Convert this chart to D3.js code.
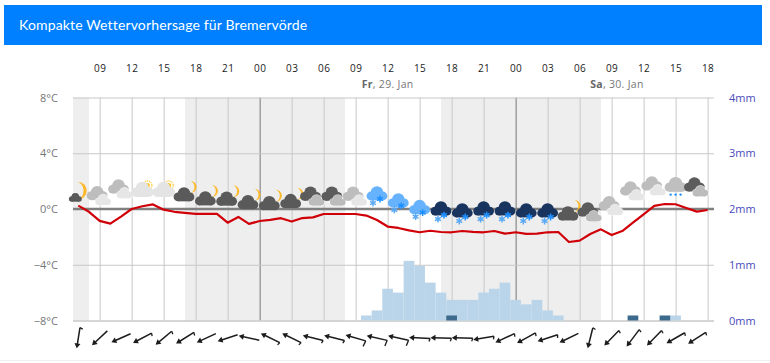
<!DOCTYPE html>
<html>
<head>
<meta charset="utf-8">
<script src="https://cdn.jsdelivr.net/npm/d3@7"></script>
<style>
  html, body { margin: 0; padding: 0; background: #fff; }
  svg { display: block; }
  text { font-family: "Open Sans", sans-serif; }
  .domain { display: none; }
</style>
</head>
<body>
<div id="chart"></div>
<script>
const title = "Kompakte Wettervorhersage für Bremervörde";

// hours counted from 00:00 on the day of the first tick
const tickHours = [9, 12, 15, 18, 21, 24, 27, 30, 33, 36, 39, 42, 45, 48, 51, 54, 57, 60, 63, 66];
const tickLabels = ["09", "12", "15", "18", "21", "00", "03", "06", "09", "12", "15", "18", "21", "00", "03", "06", "09", "12", "15", "18"];
const midnightHours = [24, 48];
const nightStart = [6.5, 17, 41];
const nightEnd = [8, 32, 56];

const dayHours = [36, 57.5];
const dayNames = ["Fr", "Sa"];
const dayDates = [", 29. Jan", ", 30. Jan"];

const tempTicks = [-8, -4, 0, 4, 8];
const rainTicks = [0, 1, 2, 3, 4];

// temperature, one value per hour from hour 7
const tempStart = 7;
const temps = [0.24, -0.2, -0.85, -1.05, -0.55, 0, 0.2, 0.33, -0.05, -0.2, -0.28, -0.35, -0.35, -0.35, -0.98,
  -0.57, -1.07, -0.86, -0.78, -0.66, -0.9, -0.65, -0.6, -0.36, -0.36, -0.36, -0.36, -0.47, -0.79, -1.26,
  -1.36, -1.53, -1.67, -1.56, -1.65, -1.67, -1.58, -1.64, -1.67, -1.58, -1.77, -1.67, -1.79, -1.77, -1.67,
  -1.65, -2.37, -2.27, -1.79, -1.46, -1.87, -1.58, -0.98, -0.38, 0.22, 0.36, 0.34, 0.07, -0.19, -0.07];

// precipitation in mm
const rainHours = [34, 35, 36, 37, 38, 39, 40, 41, 42, 43, 44, 45, 46, 47, 48, 49, 50, 51, 52, 63];
const rainValues = [0.09, 0.18, 0.57, 0.5, 1.07, 0.98, 0.68, 0.5, 0.37, 0.37, 0.37, 0.5, 0.57, 0.68, 0.37, 0.29, 0.37, 0.18, 0.09, 0.09];
const darkHours = [42, 59, 62];
const darkValues = [0.09, 0.09, 0.09];

// one icon and one wind arrow every two hours from hour 7
const iconTypes = ["moonSmall", "grayLight", "grayLight", "sunLight", "sunLight", "moonDark", "moonDark", "moonDark",
  "moonDark", "moonDark", "moonDark", "darkGray", "darkGray", "grayLight", "blueSnow", "blueSnow", "blueSnow",
  "navySnow", "navySnow", "navySnow", "navySnow", "navySnow", "navySnow", "moonDark", "darkGray", "grayLight",
  "grayLight", "grayLight", "grayDrops", "darkGray"];
// height of each icon read on the temperature axis
const iconLevels = [0.88, 0.88, 1.36, 1.43, 1.43, 1.08, 0.79, 0.77, 0.52, 0.45, 0.6, 0.84, 0.84, 0.84, 0.79, 0.29, -0.19,
  -0.29, -0.43, -0.29, -0.29, -0.43, -0.43, -0.29, -0.29, 0.16, 1.22, 1.58, 1.5, 1.5];
// direction the wind comes from, compass degrees
const windDirs = [9, 47, 66, 62, 50, 58, 65, 72, 102, 116, 116, 104, 104, 106, 103, 102, 93, 92, 92, 81, 65, 61, 72, 64,
  14, 44, 37, 44, 60, 57];
const windBarbs = [1, 0, 0, 1, 1, 1, 0, 0, 0, 1, 1, 1, 1, 2, 2, 2, 1, 1, 1, 1, 1, 1, 1, 0, 1, 1, 1, 1, 1, 1];

const width = 770;
const height = 363;

const svg = d3.select("#chart").append("svg")
  .attr("width", width)
  .attr("height", height);

const x = d3.scaleLinear().domain([6.5, 66.6]).range([73, 714]);
const yTemp = d3.scaleLinear().domain([-8, 8]).range([320.5, 97.5]);
const yRain = d3.scaleLinear().domain([0, 4]).range([320.5, 97.5]);

// Header
svg.append("rect").attr("x", 4).attr("y", 5).attr("width", 758).attr("height", 40).attr("fill", "#007fff");
svg.append("text").attr("x", 19).attr("y", 30).attr("fill", "#fff")
  .style("font-family", "Lato, sans-serif").style("font-size", "14px").style("letter-spacing", "0.15px")
  .text(title);
svg.append("line").attr("x1", 0).attr("x2", width).attr("y1", 360.5).attr("y2", 360.5).attr("stroke", "#f0f0f0");

// Night bands
svg.append("g").selectAll("rect")
  .data(nightStart)
  .join("rect")
  .attr("x", d => x(d))
  .attr("y", yTemp(8))
  .attr("width", (d, i) => x(nightEnd[i]) - x(d))
  .attr("height", yTemp(-8) - yTemp(8))
  .attr("fill", "#eeeeee");

// Grid and axes
const xAxis = svg.append("g")
  .attr("transform", `translate(0,${yTemp(-8)})`)
  .call(d3.axisTop(x).tickValues(tickHours).tickSize(yTemp(-8) - yTemp(8)).tickFormat((d, i) => tickLabels[i]));
xAxis.selectAll("line")
  .attr("stroke", d => midnightHours.includes(d) ? "#777" : "#c8c8c8");
xAxis.selectAll("text")
  .attr("y", 69 - yTemp(-8)).attr("dy", "0.32em").attr("fill", "#222")
  .style("font-size", "10px").style("letter-spacing", "0.4px");

const tempAxis = svg.append("g")
  .attr("transform", "translate(73,0)")
  .call(d3.axisLeft(yTemp).tickValues(tempTicks).tickSize(-641).tickPadding(15)
    .tickFormat(d => `${d < 0 ? "\u2212" + -d : d}°C`));
tempAxis.selectAll("line").attr("stroke", "#c8c8c8");
tempAxis.selectAll("text").attr("fill", "#777").style("font-size", "11px");
tempAxis.selectAll(".tick").filter(d => d === -8).select("line").attr("stroke-width", 1.5);

const rainAxis = svg.append("g")
  .attr("transform", "translate(714,0)")
  .call(d3.axisRight(yRain).tickValues(rainTicks).tickSize(0).tickPadding(15).tickFormat(d => `${d}mm`));
rainAxis.selectAll("text").attr("fill", "#4a4ab8").style("font-size", "11px");

// Day labels
const dayLabels = svg.append("g").selectAll("text")
  .data(dayHours)
  .join("text")
  .attr("x", d => x(d))
  .attr("y", 88)
  .attr("text-anchor", "middle")
  .style("font-size", "10.5px")
  .style("letter-spacing", "0.3px")
  .attr("fill", "#777");
dayLabels.append("tspan").style("font-weight", "bold").attr("fill", "#666").text((d, i) => dayNames[i]);
dayLabels.append("tspan").text((d, i) => dayDates[i]);

// Precipitation bars
svg.append("g").selectAll("rect")
  .data(rainHours)
  .join("rect")
  .attr("x", d => x(d - 0.5))
  .attr("width", x(1) - x(0))
  .attr("y", (d, i) => yRain(rainValues[i]))
  .attr("height", (d, i) => yRain(0) - yRain(rainValues[i]))
  .attr("fill", "#bad5ea");
svg.append("g").selectAll("rect")
  .data(darkHours)
  .join("rect")
  .attr("x", d => x(d - 0.5))
  .attr("width", x(1) - x(0))
  .attr("y", (d, i) => yRain(darkValues[i]))
  .attr("height", (d, i) => yRain(0) - yRain(darkValues[i]))
  .attr("fill", "#3c6a8c");

// Zero line and temperature line
svg.append("line")
  .attr("x1", 73).attr("x2", 714)
  .attr("y1", yTemp(0)).attr("y2", yTemp(0))
  .attr("stroke", "#808080").attr("stroke-width", 2.4);

const tempLine = d3.line()
  .x((d, i) => x(tempStart + i))
  .y(d => yTemp(d));
svg.append("path")
  .datum(temps)
  .attr("d", tempLine)
  .attr("fill", "none")
  .attr("stroke", "#d00008")
  .attr("stroke-width", 2.2)
  .attr("stroke-linejoin", "round");

// Weather icons
function cloud(g, cx, cy, s, color, halo) {
  const c = g.append("g").attr("transform", `translate(${cx},${cy}) scale(${s})`);
  const parts = [[-6, 2, 4.4], [6, 2, 4.4], [0, -1.5, 6.3]];
  if (halo) {
    parts.forEach(p => c.append("circle").attr("cx", p[0]).attr("cy", p[1]).attr("r", p[2] + 1).attr("fill", "#fff").attr("fill-opacity", 0.7));
  }
  parts.forEach(p => c.append("circle").attr("cx", p[0]).attr("cy", p[1]).attr("r", p[2]).attr("fill", color));
  c.append("rect").attr("x", -6).attr("y", 1).attr("width", 12).attr("height", 5.4).attr("fill", color);
}

function moon(g, cx, cy, r) {
  g.append("path")
    .attr("transform", `translate(${cx},${cy})`)
    .attr("d", `M${-r * 0.4},${-r} A${r},${r} 0 1 1 ${-r * 0.4},${r} A${r * 1.1},${r * 1.1} 0 0 0 ${-r * 0.4},${-r} Z`)
    .attr("fill", "#fdb92b");
}

function sun(g, cx, cy) {
  g.append("circle").attr("cx", cx).attr("cy", cy).attr("r", 2.6).attr("fill", "#fdc52b");
  g.append("circle").attr("cx", cx).attr("cy", cy).attr("r", 4.6)
    .attr("fill", "none").attr("stroke", "#fdc52b").attr("stroke-width", 1.2).attr("stroke-dasharray", "1.1 0.8");
}

function flake(g, cx, cy, color) {
  const r = 3.4;
  g.append("path")
    .attr("transform", `translate(${cx},${cy})`)
    .attr("d", d3.range(3).map(k => {
      const a = k * Math.PI / 3 + Math.PI / 2;
      return `M${-r * Math.cos(a)},${-r * Math.sin(a)}L${r * Math.cos(a)},${r * Math.sin(a)}`;
    }).join(""))
    .attr("stroke", color).attr("stroke-width", 1.5);
}

const drawIcon = {
  moonSmall(g) {
    moon(g, 3, -6, 9);
    cloud(g, -3, 1, 0.62, "#595959");
  },
  moonDark(g) {
    moon(g, 8, -7, 6);
    cloud(g, -1, 1, 1, "#5a5a5a");
  },
  grayLight(g) {
    cloud(g, -2.5, -3, 1, "#bdbdbd");
    cloud(g, 3.5, 3.5, 0.75, "#e6e6e6", true);
  },
  darkGray(g) {
    cloud(g, -2.5, -3, 1, "#5c5c5c");
    cloud(g, 3.5, 3.5, 0.75, "#bcbcbc", true);
  },
  sunLight(g) {
    sun(g, 5, -3.5);
    cloud(g, 0, 1, 1.08, "#e4e4e4");
  },
  blueSnow(g) {
    cloud(g, 0, -4, 1, "#66b2fd");
    flake(g, -4, 5, "#5aa9f5");
    flake(g, 3, 1, "#1e90ff");
  },
  navySnow(g) {
    cloud(g, 0, -4, 1, "#19345e");
    flake(g, -3, 6, "#5aa9f5");
    flake(g, 3, 2, "#1e90ff");
  },
  grayDrops(g) {
    cloud(g, 0, -3, 1.05, "#bfbfbf");
    d3.range(3).forEach(k => g.append("circle")
      .attr("cx", -5 + 5 * k).attr("cy", 6.5).attr("r", 1.2).attr("fill", "#1e90ff"));
  }
};

const icons = svg.append("g").selectAll("g")
  .data(iconTypes)
  .join("g")
  .attr("transform", (d, i) => `translate(${x(tempStart + 2 * i)},${yTemp(iconLevels[i])})`);
icons.each(function (d) { drawIcon[d](d3.select(this)); });

// Wind arrows, drawn pointing down and then turned to their direction
const windRows = windDirs.map((dir, i) => ({ dir, barb: windBarbs[i] }));
const arrows = svg.append("g").selectAll("g")
  .data(windRows)
  .join("g")
  .attr("transform", (d, i) => `translate(${x(tempStart + 2 * i)},338) rotate(${d.dir})`);
arrows.append("line")
  .attr("x1", 0).attr("x2", 0).attr("y1", -10.5).attr("y2", 8)
  .attr("stroke", "#1c1c1c").attr("stroke-width", 1.5);
arrows.append("path")
  .attr("d", "M0,10.5L-3,5.5L3,5.5Z")
  .attr("fill", "#1c1c1c");
arrows.filter(d => d.barb > 0).append("line")
  .attr("x1", 0).attr("y1", -10.5)
  .attr("x2", d => d.barb * 3)
  .attr("y2", -9.5)
  .attr("stroke", "#1c1c1c").attr("stroke-width", 1.3);
</script>
</body>
</html>
